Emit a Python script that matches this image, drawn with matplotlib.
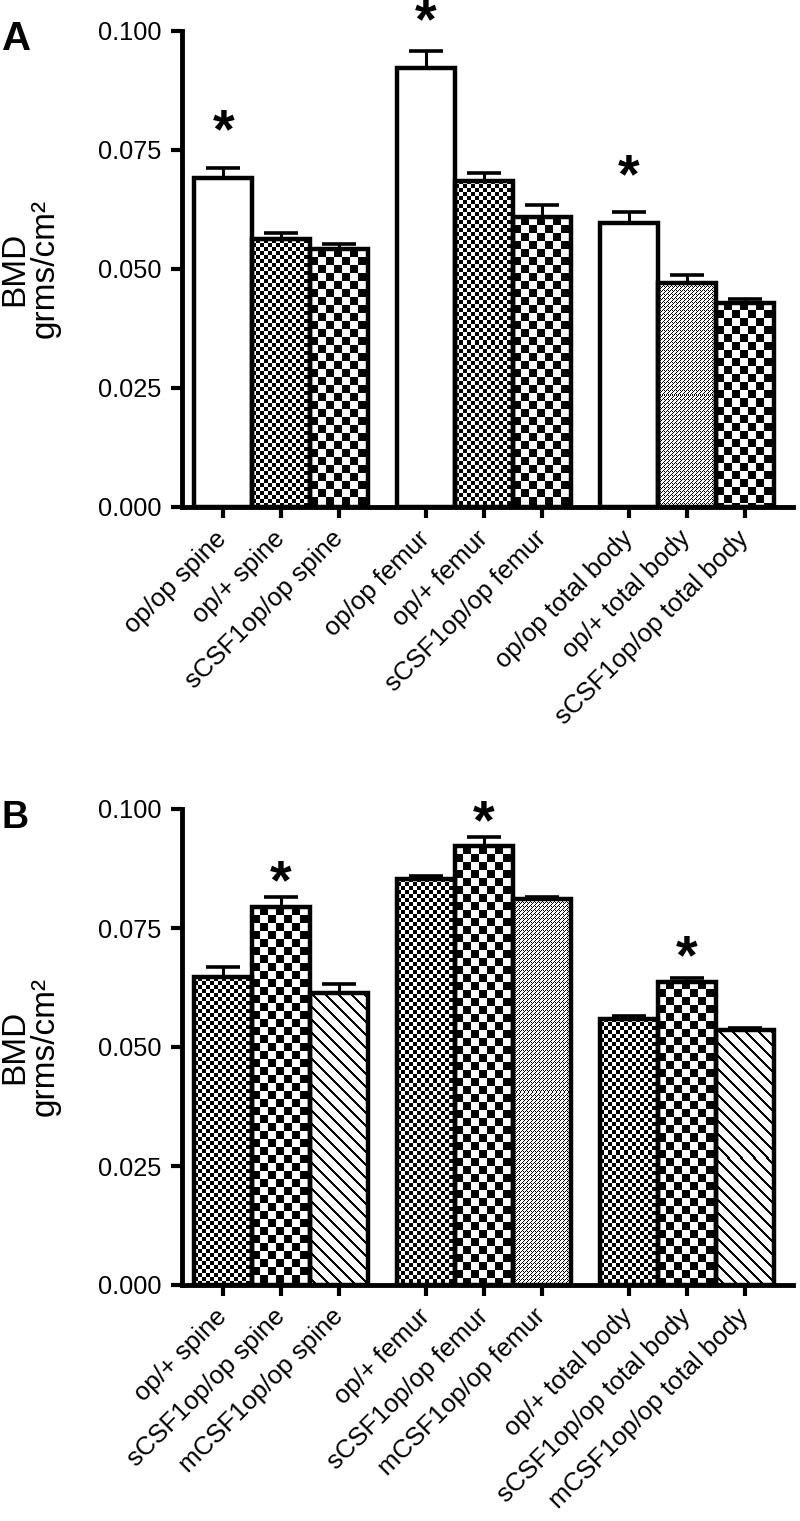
import numpy as np
import matplotlib
matplotlib.use("Agg")
import matplotlib.pyplot as plt

plt.rcParams['font.family'] = ['Liberation Sans', 'DejaVu Sans']

# panel A
labels_a = ['op/op spine', 'op/+ spine', 'sCSF1op/op spine',
            'op/op femur', 'op/+ femur', 'sCSF1op/op femur',
            'op/op total body', 'op/+ total body', 'sCSF1op/op total body']
bmd_a = [0.0691, 0.0563, 0.0542, 0.0922, 0.0685, 0.0609, 0.0597, 0.0471, 0.0429]
err_a = [0.0021, 0.0013, 0.0010, 0.0036, 0.0017, 0.0025, 0.0022, 0.0017, 0.0007]
fill_a = ['white', 'fine', 'coarse', 'white', 'fine', 'coarse', 'white', 'stipple', 'coarse']
star_a = [0, 3, 6]

# panel B
labels_b = ['op/+ spine', 'sCSF1op/op spine', 'mCSF1op/op spine',
            'op/+ femur', 'sCSF1op/op femur', 'mCSF1op/op femur',
            'op/+ total body', 'sCSF1op/op total body', 'mCSF1op/op total body']
bmd_b = [0.0647, 0.0794, 0.0613, 0.0853, 0.0922, 0.0811, 0.0559, 0.0637, 0.0536]
err_b = [0.0021, 0.0021, 0.0019, 0.0007, 0.0019, 0.0005, 0.0007, 0.0008, 0.0004]
fill_b = ['fine', 'coarse', 'diag', 'fine', 'coarse', 'stipple', 'fine', 'coarse', 'diag']
star_b = [1, 4, 7]

xpos = [0, 1, 2, 3.5, 4.5, 5.5, 7, 8, 9]
yticks = [0.0, 0.025, 0.05, 0.075, 0.1]


def texture(kind, h, w):
    r = np.arange(h)[:, None]
    c = np.arange(w)[None, :]
    if kind == 'fine':
        return ((r // 4 + c // 4) % 2).astype(float)
    if kind == 'coarse':
        return ((r // 8 + c // 8) % 2).astype(float)
    if kind == 'stipple':
        return (((r + c) % 4 == 0) | (((r + c) % 4 == 2) & (r % 4 == 0))).astype(float)
    if kind == 'diag':
        return ((c - r) % 13 < 3).astype(float)
    return np.zeros((h, w))


def panel(ax, labels, vals, errs, fills, stars, star_off):
    ax.set_xlim(-0.71, 9.83)
    ax.set_ylim(0, 0.1)
    ax.set_autoscale_on(False)
    faces = ax.bar(xpos, vals, width=1.0, color='white', edgecolor='none', zorder=1)
    for b, kind in zip(faces, fills):
        if kind == 'white':
            continue
        x0, y0 = b.get_x(), b.get_y()
        x1, y1 = x0 + b.get_width(), y0 + b.get_height()
        p0 = ax.transData.transform((x0, y0))
        p1 = ax.transData.transform((x1, y1))
        w = int(round(abs(p1[0] - p0[0])))
        h = int(round(abs(p1[1] - p0[1])))
        im = ax.imshow(texture(kind, h, w), extent=(x0, x1, y0, y1), origin='upper',
                       aspect='auto', interpolation='nearest', cmap='gray_r',
                       vmin=0, vmax=1, zorder=2)
        im.set_clip_path(b)
    ax.bar(xpos, vals, width=1.0, fill=False, edgecolor='black', linewidth=3.2,
           joinstyle='miter', zorder=3)
    ax.errorbar(xpos, vals, yerr=[np.zeros(len(vals)), errs], fmt='none', ecolor='black',
                elinewidth=2.2, capsize=12, capthick=2.6, zorder=4)
    # asterisk sits a fixed distance above the bar top
    for i in stars:
        ax.annotate('*', xy=(xpos[i], vals[i]), xytext=(0, star_off),
                    textcoords='offset points', ha='center', va='baseline',
                    fontsize=40, fontweight='bold')
    for s in ['top', 'right']:
        ax.spines[s].set_visible(False)
    for s in ['left', 'bottom']:
        ax.spines[s].set_linewidth(3.5)
    ax.set_yticks(yticks)
    ax.set_yticklabels(['%.3f' % t for t in yticks])
    ax.set_xticks(xpos)
    ax.set_xticklabels(labels, rotation=45, ha='right', va='center', rotation_mode='anchor')
    ax.tick_params(axis='both', direction='out', length=8, width=3, labelsize=18.3)
    ax.tick_params(axis='y', pad=7)
    ax.tick_params(axis='x', pad=12, labelsize=18.5)
    ax.text(-0.249, 0.5, 'BMD\ngrms/cm\u00b2', transform=ax.transAxes, rotation=90,
            ha='center', va='center', multialignment='center', fontsize=24, linespacing=1.0)


fig = plt.figure(figsize=(8, 15.21), dpi=100)
ax1 = fig.add_axes([182 / 800, 1 - 507 / 1521, 611 / 800, 476 / 1521])
ax2 = fig.add_axes([182 / 800, 1 - 1285 / 1521, 611 / 800, 476 / 1521])
panel(ax1, labels_a, bmd_a, err_a, fill_a, star_a, 22)
panel(ax2, labels_b, bmd_b, err_b, fill_b, star_b, 6)
fig.text(0.002, 1 - 20 / 1521, 'A', fontsize=29, fontweight='bold', va='top', ha='left')
fig.text(0.002, 1 - 800 / 1521, 'B', fontsize=27, fontweight='bold', va='top', ha='left')
fig.savefig('out.png', dpi=100, facecolor='white')
